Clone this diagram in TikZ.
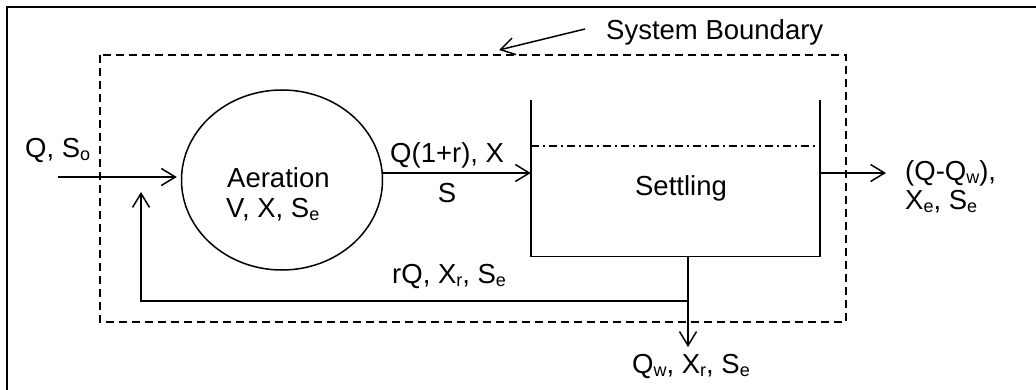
\documentclass[tikz,border=0pt]{standalone}
\usepackage{fontspec}
\setmainfont{Liberation Sans}
\usetikzlibrary{arrows.meta,shapes.geometric}
\newcommand\sbs[1]{\raisebox{-3pt}{\fontsize{18}{18}\selectfont #1}}
\begin{document}
\begin{tikzpicture}[x=1pt,y=-1pt,
  line/.style={line width=1.5pt},
  flow/.style={line, -{Straight Barb[length=14pt,width=17pt,line width=1.5pt]}},
  lbl/.style={font=\fontsize{27.5}{30}\selectfont, inner sep=0pt},
  boundary/.style={line width=1.5pt, dash pattern=on 8pt off 5pt},
  surface/.style={line width=1.2pt, dash pattern=on 8pt off 4pt on 2pt off 4pt}]
\useasboundingbox (0,0) rectangle (1036,390);
% frame
\draw[line width=2pt] (1040,7) -- (6.5,7) -- (6.5,395);
% system boundary
\draw[boundary] (100,55) rectangle (846,322);
% aeration
\node[ellipse, draw, line, minimum width=201pt, minimum height=180pt, inner sep=0pt] (aer) at (282,180) {};
\node[lbl, anchor=base west] (aert) at (227,188) {Aeration};
\node[lbl, anchor=base west] (aerp) at (226,218) {V, X, S\sbs{e}};
% settling tank
\node[minimum width=289pt, minimum height=156pt, inner sep=0pt] (tank) at (675.5,178.5) {};
\draw[line] (tank.north west) -- (tank.south west) -- (tank.south east) -- (tank.north east);
\coordinate (lev) at (0,146);
\draw[surface] (tank.west |- lev) -- (tank.east |- lev);
\node[lbl, anchor=base] (settle) at (681,196) {Settling};
% influent
\coordinate (in) at (58,177);
\draw[flow] (in) -- ([xshift=-4pt]in -| aer.west);
\node[lbl, anchor=base west] (qin) at (25,158) {Q, S\sbs{o}};
% aeration -> settling
\draw[flow] ([yshift=7pt]aer.east) -- ([yshift=7pt]aer.east -| tank.west);
\node[lbl, anchor=base west] (mix) at (390,163) {Q(1+r), X};
\node[lbl, anchor=base] (mixs) at (447,203) {S};
% effluent
\coordinate (out) at (886,173);
\draw[flow] (tank.east |- out) -- (out);
\node[lbl, anchor=base west] (eff1) at (905,181) {(Q-Q\sbs{w}),};
\node[lbl, anchor=base west] (eff2) at (905,210) {X\sbs{e}, S\sbs{e}};
% recycle and waste
\coordinate (ret) at (141,192);
\coordinate (split) at (688,301);
\coordinate (waste) at (688,347);
\draw[flow] (tank.south -| waste) -- (waste);
\draw[flow] (split) -- (split -| ret) -- (ret);
\node[lbl, anchor=base west] (rec) at (392,283) {rQ, X\sbs{r}, S\sbs{e}};
\node[lbl, anchor=base west] (was) at (632,373) {Q\sbs{w}, X\sbs{r}, S\sbs{e}};
% system boundary label
\node[lbl, anchor=base west] (sb) at (606,40) {System Boundary};
\coordinate (sbtail) at (585,29);
\coordinate (sbtip) at (499,50);
\draw[flow] (sbtail) -- (sbtip);
\end{tikzpicture}
\end{document}
